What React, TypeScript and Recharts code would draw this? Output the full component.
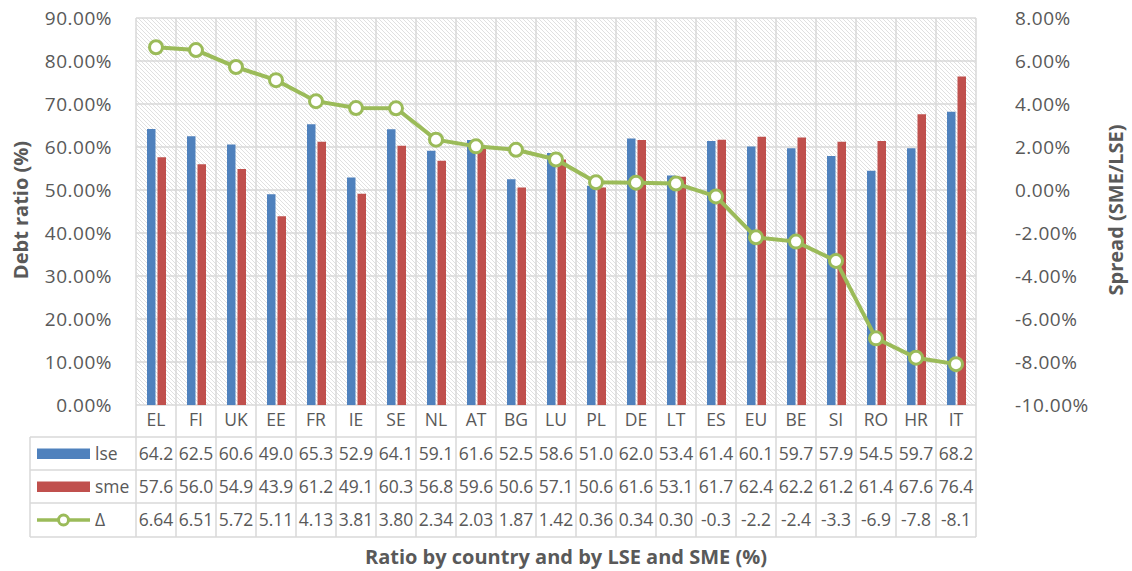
import React from "react";
import { ComposedChart, Bar, Line, XAxis, YAxis, CartesianGrid } from "recharts";

const categories = ["EL", "FI", "UK", "EE", "FR", "IE", "SE", "NL", "AT", "BG", "LU", "PL", "DE", "LT", "ES", "EU", "BE", "SI", "RO", "HR", "IT"];
const lse = [64.2, 62.5, 60.6, 49.0, 65.3, 52.9, 64.1, 59.1, 61.6, 52.5, 58.6, 51.0, 62.0, 53.4, 61.4, 60.1, 59.7, 57.9, 54.5, 59.7, 68.2];
const sme = [57.6, 56.0, 54.9, 43.9, 61.2, 49.1, 60.3, 56.8, 59.6, 50.6, 57.1, 50.6, 61.6, 53.1, 61.7, 62.4, 62.2, 61.2, 61.4, 67.6, 76.4];
const delta = [6.64, 6.51, 5.72, 5.11, 4.13, 3.81, 3.8, 2.34, 2.03, 1.87, 1.42, 0.36, 0.34, 0.3, -0.3, -2.2, -2.4, -3.3, -6.9, -7.8, -8.1];

const leftTicks = [0, 10, 20, 30, 40, 50, 60, 70, 80, 90];
const rightTicks = [-10, -8, -6, -4, -2, 0, 2, 4, 6, 8];

const data = categories.map((c, i) => ({ name: c, lse: lse[i], sme: sme[i], delta: delta[i] }));

const BLUE = "#4F81BD";
const RED = "#C0504D";
const GREEN = "#9BBB59";
const GRID = "#d9d9d9";
const TEXT = "#595959";
const FONT = "'Open Sans', sans-serif";

// plot box
const PL = 136;
const PR = 976;
const PT = 18;
const PB = 405;
const BAND = (PR - PL) / categories.length;

const fmtDelta = (v: number) => (v < 0 ? v.toFixed(1) : v.toFixed(2));

const tableRows = [
  { label: "lse", kind: "bar", color: BLUE, values: lse.map((v) => v.toFixed(1)) },
  { label: "sme", kind: "bar", color: RED, values: sme.map((v) => v.toFixed(1)) },
  { label: "Δ", kind: "line", color: GREEN, values: delta.map(fmtDelta) },
];
const ROW_Y = [437, 470, 503, 537];

function DataTable() {
  return (
    <svg
      width={1132}
      height={571}
      style={{ position: "absolute", left: 0, top: 0, pointerEvents: "none" }}
    >
      <defs>
        <pattern id="hatch" width={4} height={4} patternUnits="userSpaceOnUse">
          <rect width={4} height={4} fill="#fff" />
          <path d="M0,0 L4,4 M-1,3 L1,5 M3,-1 L5,1" stroke="#e0e0e0" strokeWidth={1} />
        </pattern>
      </defs>
      {/* vertical lines of category row + table */}
      {Array.from({ length: categories.length + 1 }, (_, i) => (
        <line key={`v${i}`} x1={PL + i * BAND} x2={PL + i * BAND} y1={PB} y2={ROW_Y[3]} stroke={GRID} strokeWidth={1.5} />
      ))}
      <line x1={30} x2={30} y1={ROW_Y[0]} y2={ROW_Y[3]} stroke={GRID} strokeWidth={1.5} />
      {ROW_Y.map((y, i) => (
        <line key={`h${i}`} x1={30} x2={PR} y1={y} y2={y} stroke={GRID} strokeWidth={1.5} />
      ))}
      {tableRows.map((row, r) => {
        const cy = (ROW_Y[r] + ROW_Y[r + 1]) / 2;
        return (
          <g key={row.label}>
            {row.kind === "bar" ? (
              <rect x={37} y={cy - 5} width={53} height={10.5} fill={row.color} />
            ) : (
              <g>
                <line x1={37} x2={90} y1={cy} y2={cy} stroke={row.color} strokeWidth={3.5} />
                <circle cx={63.5} cy={cy} r={5} fill="#fff" stroke={row.color} strokeWidth={3} />
              </g>
            )}
            <text x={95} y={cy} dy="0.35em" fill={TEXT} fontSize={17.5} fontFamily={FONT}>
              {row.label}
            </text>
            {row.values.map((v, i) => (
              <text
                key={i}
                x={PL + (i + 0.5) * BAND}
                y={cy}
                dy="0.35em"
                textAnchor="middle"
                fill={TEXT}
                fontSize={17.5}
                fontFamily={FONT}
              >
                {v}
              </text>
            ))}
          </g>
        );
      })}
      <text
        transform="translate(21,210) rotate(-90)"
        textAnchor="middle"
        dy="0.35em"
        fill={TEXT}
        fontSize={20}
        fontWeight="bold"
        fontFamily={FONT}
      >
        Debt ratio (%)
      </text>
      <text
        transform="translate(1116,210) rotate(-90)"
        textAnchor="middle"
        dy="0.35em"
        fill={TEXT}
        fontSize={20}
        fontWeight="bold"
        fontFamily={FONT}
      >
        Spread (SME/LSE)
      </text>
      <text x={566} y={557} dy="0.35em" textAnchor="middle" fill={TEXT} fontSize={20} fontWeight="bold" fontFamily={FONT}>
        Ratio by country and by LSE and SME (%)
      </text>
    </svg>
  );
}

export default function App() {
  const tickStyle = { fill: TEXT, fontSize: 19, fontFamily: FONT, letterSpacing: 0.5 };
  return (
    <div
      style={{
        position: "absolute",
        left: 0,
        top: 0,
        width: 1132,
        height: 571,
        background: "#fff",
        overflow: "hidden",
        fontFamily: FONT,
      }}
    >
      <DataTable />
      <div style={{ position: "absolute", left: 0, top: 0 }}>
        <ComposedChart
          width={1132}
          height={437}
          data={data}
          margin={{ top: PT, right: 0, left: 0, bottom: 0 }}
          barSize={8.5}
          barGap={2}
        >
          <CartesianGrid
            yAxisId="left"
            stroke={GRID}
            strokeWidth={1.5}
            fill="url(#hatch)"
            fillOpacity={1}
            verticalCoordinatesGenerator={({ offset }: any) =>
              categories.map((_, i) => offset.left + (i * offset.width) / categories.length).concat(offset.left + offset.width)
            }
          />
          <XAxis
            dataKey="name"
            height={32}
            axisLine={false}
            tickLine={false}
            tickSize={0}
            tickMargin={9}
            interval={0}
            tick={{ fill: TEXT, fontSize: 17.5, fontFamily: FONT }}
          />
          <YAxis
            yAxisId="left"
            width={PL}
            domain={[0, 90]}
            ticks={leftTicks}
            tickFormatter={(v: number) => `${v.toFixed(2)}%`}
            axisLine={false}
            tickLine={false}
            tickSize={0}
            tickMargin={24}
            tick={tickStyle}
          />
          <YAxis
            yAxisId="right"
            orientation="right"
            width={1132 - PR}
            domain={[-10, 8]}
            ticks={rightTicks}
            tickFormatter={(v: number) => `${v.toFixed(2)}%`}
            axisLine={false}
            tickLine={false}
            tickSize={0}
            tickMargin={39}
            tick={{ ...tickStyle, textAnchor: "start" }}
          />
          <Bar yAxisId="left" dataKey="lse" fill={BLUE} isAnimationActive={false} />
          <Bar yAxisId="left" dataKey="sme" fill={RED} isAnimationActive={false} />
          <Line
            yAxisId="right"
            dataKey="delta"
            stroke={GREEN}
            strokeWidth={4}
            dot={{ r: 6.5, fill: "#fff", stroke: GREEN, strokeWidth: 3 }}
            isAnimationActive={false}
          />
        </ComposedChart>
      </div>
    </div>
  );
}
